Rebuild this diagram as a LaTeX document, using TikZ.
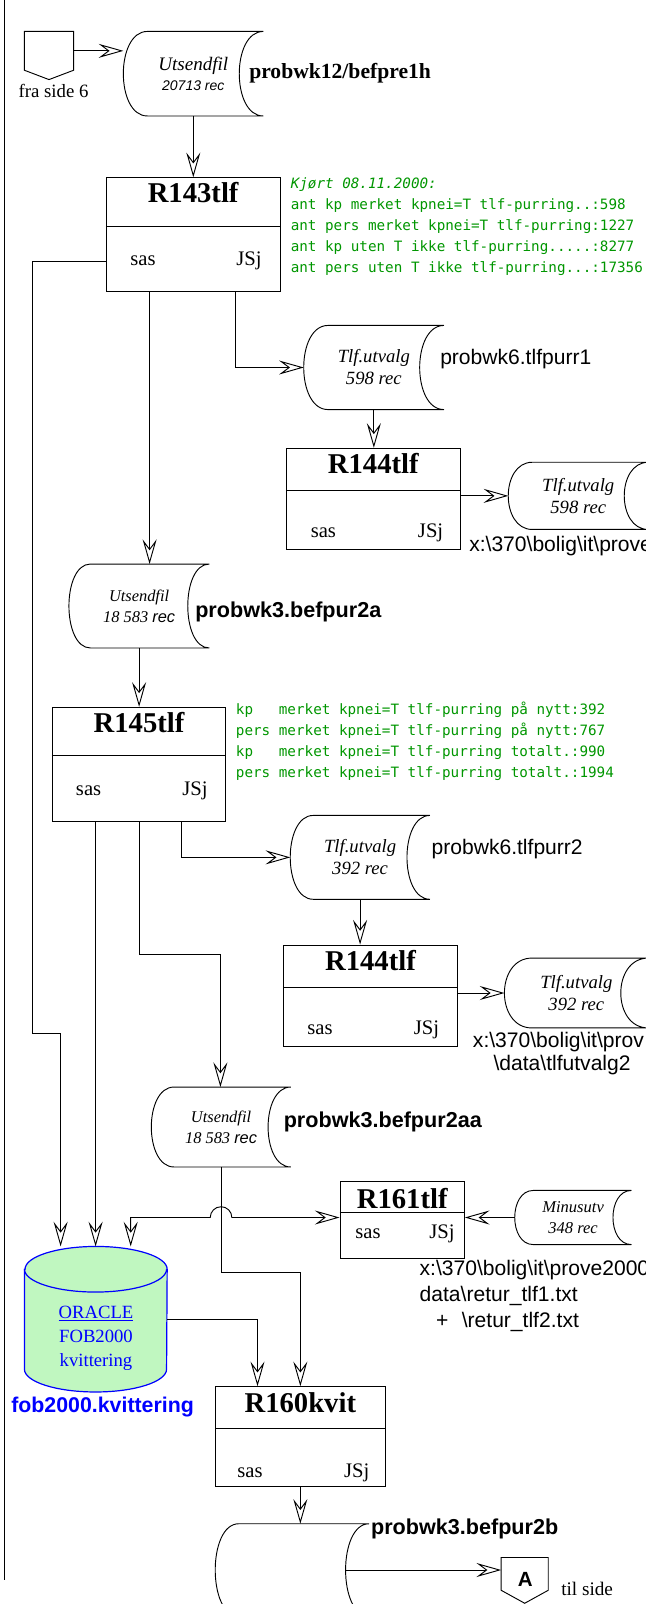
\documentclass[tikz,border=0pt]{standalone}
\usepackage{fontspec}
\setmainfont{Liberation Serif}
\setsansfont{Liberation Sans}
\setmonofont{DejaVu Sans Mono}
\usepackage{tikz}
\usetikzlibrary{calc}
\usetikzlibrary{arrows.meta}
\definecolor{rungreen}{RGB}{0,150,0}
\definecolor{oragreen}{RGB}{192,247,192}
\newcommand{\bsl}{\textbackslash}
% outline of a stored-data node: name, depth of the arcs (px)
\newcommand{\storeline}[2]{\draw[line width=0.7pt] (#1.north east) -- ([xshift=#2*0.75pt]#1.north west) .. controls ([xshift=-#2*0.25pt]#1.north west) and ([xshift=-#2*0.25pt]#1.south west) .. ([xshift=#2*0.75pt]#1.south west) -- (#1.south east) .. controls ([xshift=-#2*1pt]#1.south east) and ([xshift=-#2*1pt]#1.north east) .. (#1.north east);}

\begin{document}
\begin{tikzpicture} [x=0.75pt,y=-0.75pt,
            >={Stealth[open,length=18.5pt,width=10.5pt,inset=7pt]},
            flow/.style={->,line width=0.7pt},
            proc/.style={draw,rectangle,line width=0.7pt,inner sep=0pt},
            stored/.style={rectangle,inner sep=0pt,align=center,font=\itshape\fontsize{14}{16.5}\selectfont},
            ptitle/.style={anchor=base,inner sep=0pt,font=\bfseries\fontsize{21.5}{24}\selectfont},
            initials/.style={anchor=base,inner sep=0pt,font=\fontsize{15.5}{18}\selectfont},
            fname/.style={anchor=west,inner sep=0pt,align=left,font=\sffamily\fontsize{15.8}{19.4}\selectfont},
            bname/.style={anchor=west,inner sep=0pt,font=\sffamily\bfseries\fontsize{16.2}{19}\selectfont},
            runlog/.style={anchor=west,inner sep=0pt,align=left,text=rungreen,font=\ttfamily\fontsize{10.7}{15.75}\selectfont}]
\useasboundingbox (0,0) rectangle (646,1604);
\clip (0,0) rectangle (646,1604);
\draw[line width=0.7pt] (4,0) -- (4,1580);

% tracks and bends of the connectors
\coordinate (k1) at (149.6,0);
\coordinate (k2) at (235.7,0);
\coordinate (k3) at (95.6,0);
\coordinate (k4) at (181.7,0);
\coordinate (k6) at (130.7,0);
\coordinate (k7) at (257.5,0);
\coordinate (k8) at (210.25,0);
\coordinate (k9) at (345.3,0);
\coordinate (j0) at (32,261.7);
\coordinate (j1) at (60.6,1033.3);
\coordinate (j2) at (220.4,954);
\coordinate (j3) at (300.35,1272.7);

% start
\node (fra) at (49,50.85) [minimum width=36.45pt,minimum height=28.7pt,inner sep=0pt] {};
\draw[line width=0.7pt] (fra.north west) -- (fra.north east) -- (fra.south east) -- ([yshift=-7pt]fra.south) -- (fra.south west) -- cycle;
\node (fratxt) at (53.5,90.7) [inner sep=0pt,font=\fontsize{14.1}{16}\selectfont] {fra side 6};
\node (u1) at (193.3,73.7) [stored,minimum width=104.55pt,minimum height=63pt,font=\itshape\fontsize{14.3}{15}\selectfont] {Utsendfil\\{\sffamily\fontsize{10.5}{12}\selectfont 20713 rec}};
\storeline{u1}{24}
\node (u1name) at (249,73) [anchor=west,inner sep=0pt,font=\bfseries\fontsize{16.2}{19}\selectfont] {probwk12/befpre1h};

% R143tlf
\node (r143) at (193.15,234.7) [proc,minimum width=130.3pt,minimum height=85.5pt] {};
\draw[line width=0.7pt] ([yshift=-36.75pt]r143.north west) -- ([yshift=-36.75pt]r143.north east);
\node (r143t) at (193.15,202.2) [ptitle] {R143tlf};
\node (r143s) at (143,265.3) [initials] {sas};
\node (r143j) at (249,265.3) [initials] {JSj};
\node (log1) at (290.5,226.3) [runlog] {\textit{Kjørt 08.11.2000:}\\ant kp merket kpnei=T tlf-purring..:598\\ant pers merket kpnei=T tlf-purring:1227\\ant kp uten T ikke tlf-purring.....:8277\\ant pers uten T ikke tlf-purring...:17356};

\node (t1) at (373.85,367.5) [stored,minimum width=104.8pt,minimum height=62.7pt] {Tlf.utvalg\\598 rec};
\storeline{t1}{24.3}
\node (t1name) at (440,359) [fname] {probwk6.tlfpurr1};

% R144tlf (first)
\node (r144a) at (373.3,498.8) [proc,minimum width=130.35pt,minimum height=75.75pt] {};
\draw[line width=0.7pt] ([yshift=-31.8pt]r144a.north west) -- ([yshift=-31.8pt]r144a.north east);
\node (r144at) at (373.3,473.8) [ptitle] {R144tlf};
\node (r144as) at (323.4,537.3) [initials] {sas};
\node (r144aj) at (430.6,537.3) [initials] {JSj};
\node (t2) at (578.25,495.85) [stored,minimum width=104.6pt,minimum height=50pt] {Tlf.utvalg\\598 rec};
\storeline{t2}{24}
\node (t2name) at (469,546) [fname] {x:\bsl 370\bsl bolig\bsl it\bsl prove};

\node (u2) at (139.1,606) [stored,minimum width=104.85pt,minimum height=62.55pt,font=\itshape\fontsize{12.3}{15.5}\selectfont] {Utsendfil\\18 583 {\sffamily rec}};
\storeline{u2}{21.5}
\node (u2name) at (195,612.3) [bname] {probwk3.befpur2a};

% R145tlf
\node (r145) at (139.05,764.5) [proc,minimum width=130.1pt,minimum height=85.8pt] {};
\draw[line width=0.7pt] ([yshift=-36.5pt]r145.north west) -- ([yshift=-36.5pt]r145.north east);
\node (r145t) at (139.05,732.8) [ptitle] {R145tlf};
\node (r145s) at (88.6,795.7) [initials] {sas};
\node (r145j) at (195,795.7) [initials] {JSj};
\node (log2) at (235.7,741.15) [runlog] {kp\ \ \ merket kpnei=T tlf-purring på nytt:392\\pers merket kpnei=T tlf-purring på nytt:767\\kp\ \ \ merket kpnei=T tlf-purring totalt.:990\\pers merket kpnei=T tlf-purring totalt.:1994};

\node (t3) at (360.1,857.35) [stored,minimum width=104.4pt,minimum height=62.5pt] {Tlf.utvalg\\392 rec};
\storeline{t3}{23}
\node (t3name) at (431.4,849.3) [fname] {probwk6.tlfpurr2};

% R144tlf (second)
\node (r144b) at (370.45,995.85) [proc,minimum width=130.4pt,minimum height=76.3pt] {};
\draw[line width=0.7pt] ([yshift=-32.5pt]r144b.north west) -- ([yshift=-32.5pt]r144b.north east);
\node (r144bt) at (370.45,970.5) [ptitle] {R144tlf};
\node (r144bs) at (320,1034) [initials] {sas};
\node (r144bj) at (426.5,1034) [initials] {JSj};
\node (t4) at (576.35,993) [stored,minimum width=107.5pt,minimum height=52pt] {Tlf.utvalg\\392 rec};
\storeline{t4}{27.5}
\node (t4name) at (472.7,1041.7) [fname] {x:\bsl 370\bsl bolig\bsl it\bsl prov};
\node (t4name2) at (493.3,1065) [fname] {\bsl data\bsl tlfutvalg2};

\node (u3) at (221.05,1127) [stored,minimum width=104.2pt,minimum height=59.55pt,font=\itshape\fontsize{12.3}{15.5}\selectfont] {Utsendfil\\18 583 {\sffamily rec}};
\storeline{u3}{22.7}
\node (u3name) at (283.5,1122.3) [bname] {probwk3.befpur2aa};

% R161tlf
\node (r161) at (402.2,1219.65) [proc,minimum width=93.3pt,minimum height=58pt] {};
\draw[line width=0.7pt] ([yshift=-24.2pt]r161.north west) -- ([yshift=-24.2pt]r161.north east);
\node (r161t) at (402.2,1208.5) [ptitle] {R161tlf};
\node (r161s) at (368,1238) [initials] {sas};
\node (r161j) at (442,1238) [initials] {JSj};
\node (mu) at (573.1,1217.5) [stored,minimum width=87.15pt,minimum height=40.2pt,font=\itshape\fontsize{12.4}{16}\selectfont] {Minusutv\\348 rec};
\storeline{mu}{18.5}
\node (r161name) at (419.4,1296) [fname] {x:\bsl 370\bsl bolig\bsl it\bsl prove2000\\data\bsl retur\_tlf1.txt\\\hspace*{12.4pt}+\hspace*{10pt}\bsl retur\_tlf2.txt};

% ORACLE
\node (ora) at (95.8,1319.2) [minimum width=106.65pt,minimum height=108.75pt,inner sep=0pt] {};
\draw[blue,fill=oragreen,line width=0.9pt] ([yshift=-17.1pt]ora.north west) -- ([yshift=17.1pt]ora.south west) arc[start angle=180,end angle=360,x radius=53.3pt,y radius=17.1pt] -- ([yshift=-17.1pt]ora.north east) arc[start angle=0,end angle=180,x radius=53.3pt,y radius=17.1pt] -- cycle;
\draw[blue,line width=0.9pt] ([yshift=-17.1pt]ora.north west) arc[start angle=180,end angle=360,x radius=53.3pt,y radius=17.1pt];
\node (oratxt) at (96,1338) [align=center,text=blue,font=\fontsize{14}{18}\selectfont] {\underline{ORACLE}\\FOB2000\\kvittering};
\node (oraname) at (102.6,1406.7) [inner sep=0pt,text=blue,font=\sffamily\bfseries\fontsize{16}{19}\selectfont] {fob2000.kvittering};

% R160kvit
\node (r160) at (300.35,1436.35) [proc,minimum width=127.3pt,minimum height=74.5pt] {};
\draw[line width=0.7pt] ([yshift=-31.7pt]r160.north west) -- ([yshift=-31.7pt]r160.north east);
\node (r160t) at (300.35,1412.8) [ptitle] {R160kvit};
\node (r160s) at (250,1477.3) [initials] {sas};
\node (r160j) at (356.8,1477.3) [initials] {JSj};
\node (ub) at (292.15,1570) [stored,minimum width=115pt,minimum height=69pt] {};
\storeline{ub}{23.5}
\node (ubname) at (370.8,1529) [bname] {probwk3.befpur2b};
\node (A) at (524.7,1573.85) [minimum width=34.95pt,minimum height=24.2pt,inner sep=0pt] {};
\draw[line width=0.7pt] (A.north west) -- (A.north east) -- (A.south east) -- ([yshift=-9.75pt]A.south) -- (A.south west) -- cycle;
\node (Atxt) at (525.3,1579) [font=\sffamily\bfseries\fontsize{15.4}{18}\selectfont] {A};
\node (tilside) at (561,1589.3) [anchor=west,inner sep=0pt,font=\fontsize{14.4}{17}\selectfont] {til side};

% connectors
\draw[flow] (fra.east) -- (u1.west |- fra.east);
\draw[flow] (u1.south) -- (u1.south |- r143.north);
\draw[flow] (r143.south -| k2) |- (t1.west);
\draw[flow] (r143.south -| k1) -- (u2.north -| k1);
\draw[flow] (r143.west |- j0) -- (j0) |- (j1) -- (ora.north -| j1);
\draw[flow] (t1.south) -- (t1.south |- r144a.north);
\draw[flow] (r144a.east |- t2.west) -- (t2.west);
\draw[flow] (u2.south) -- (u2.south |- r145.north);
\draw[flow] (r145.south -| k3) -- (ora.north -| k3);
\draw[flow] (r145.south) |- (j2) -- (j2 |- u3.north);
\draw[flow] (r145.south -| k4) |- (t3.west);
\draw[flow] (t3.south) -- (t3.south |- r144b.north);
\draw[flow] (r144b.east |- t4.west) -- (t4.west);
\draw[flow] (u3.south) |- (j3) -- (r160.north);
\draw[<->,line width=0.7pt] (ora.north -| k6) |- (k8 |- mu.west) arc[start angle=180,end angle=0,radius=8.1pt] -- (r161.west |- mu.west);
\draw[flow] (mu.west) -- (r161.east |- mu.west);
\draw[flow] (ora.east) -| (r160.north -| k7);
\draw[flow] (r160.south) -- (r160.south |- ub.north);
\draw[flow] (ub.center -| k9) -- (A.west |- ub.center);
\end{tikzpicture}
\end{document}
